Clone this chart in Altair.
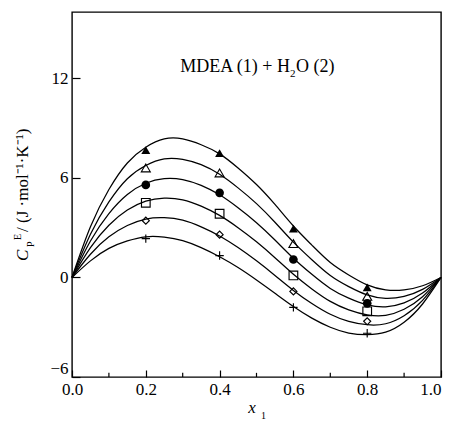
import altair as alt
import pandas as pd

# ---- data ----
x_grid = [0.0, 0.05, 0.1, 0.15, 0.2, 0.25, 0.3, 0.35, 0.4, 0.45, 0.5,
          0.55, 0.6, 0.65, 0.7, 0.75, 0.8, 0.85, 0.9, 0.95, 1.0]

curve_tri_filled = [0, 3.05, 5.3, 6.9, 7.85, 8.35, 8.35, 8.0, 7.45, 6.6, 5.6,
                    4.4, 3.1, 1.95, 0.9, 0.15, -0.45, -0.75, -0.75, -0.5, 0]
curve_tri_open = [0, 2.6, 4.55, 5.95, 6.75, 7.15, 7.12, 6.8, 6.22, 5.4, 4.45,
                  3.33, 2.13, 1.07, 0.12, -0.55, -1.05, -1.26, -1.14, -0.72, 0]
curve_circle = [0, 2.2, 3.85, 5.0, 5.68, 5.96, 5.9, 5.55, 4.98, 4.2, 3.3,
                2.26, 1.16, 0.19, -0.66, -1.25, -1.65, -1.77, -1.53, -0.94, 0]
curve_square = [0, 1.8, 3.15, 4.06, 4.6, 4.78, 4.68, 4.3, 3.74, 3.0, 2.15,
                1.19, 0.19, -0.69, -1.44, -1.95, -2.25, -2.28, -1.92, -1.16, 0]
curve_diamond = [0, 1.4, 2.45, 3.13, 3.52, 3.6, 3.45, 3.05, 2.5, 1.8, 1.0,
                 0.12, -0.78, -1.57, -2.22, -2.65, -2.85, -2.79, -2.31, -1.38, 0]
curve_plus = [0, 1.0, 1.75, 2.2, 2.45, 2.43, 2.22, 1.8, 1.25, 0.6, -0.15,
              -0.95, -1.75, -2.45, -3.0, -3.35, -3.45, -3.3, -2.7, -1.6, 0]

x_points = [0.2, 0.4, 0.6, 0.8]
pts_tri_filled = [7.68, 7.5, 2.94, -0.6]
pts_tri_open = [6.6, 6.3, 2.04, -1.14]
pts_circle = [5.58, 5.1, 1.08, -1.56]
pts_square = [4.5, 3.84, 0.12, -2.04]
pts_diamond = [3.42, 2.58, -0.84, -2.64]
pts_plus = [2.34, 1.32, -1.8, -3.36]

x_major = [0.0, 0.2, 0.4, 0.6, 0.8, 1.0]
x_minor = [0.1, 0.3, 0.5, 0.7, 0.9]
y_major = [-6, 0, 6, 12]

series_names = ["tri_filled", "tri_open", "circle", "square", "diamond", "plus"]
curves = [curve_tri_filled, curve_tri_open, curve_circle, curve_square, curve_diamond, curve_plus]
points = [pts_tri_filled, pts_tri_open, pts_circle, pts_square, pts_diamond, pts_plus]

rows = []
for name, vals in zip(series_names, curves):
    for xv, yv in zip(x_grid, vals):
        rows.append({"series": name, "x": xv, "y": yv})
df_curves = pd.DataFrame(rows)

FONT = "Liberation Serif"

xscale = alt.Scale(domain=[0, 1], nice=False, zero=False)
yscale = alt.Scale(domain=[-6, 16], nice=False, zero=False)

xaxis = alt.Axis(values=x_major, format=".1f", title=None, offset=-7, tickSize=7,
                 labelPadding=4, domain=False, grid=False, labelFlush=False,
                 labelAlign=alt.expr("datum.value >= 1 ? 'right' : 'center'"))
yaxis = alt.Axis(values=y_major, format="d", title=None, offset=-8, tickSize=8,
                 labelPadding=4, domain=False, grid=False, labelFlush=True)

lines = alt.Chart(df_curves).mark_line(interpolate="natural", color="black", strokeWidth=1.25).encode(
    x=alt.X("x:Q", scale=xscale, axis=xaxis),
    y=alt.Y("y:Q", scale=yscale, axis=yaxis),
    detail="series:N",
)

marker_styles = {
    "tri_filled": dict(shape="triangle-up", filled=True, size=80),
    "tri_open": dict(shape="triangle-up", filled=False, size=80),
    "circle": dict(shape="circle", filled=True, size=75),
    "square": dict(shape="square", filled=False, size=75),
    "diamond": dict(shape="diamond", filled=False, size=50),
    "plus": dict(shape="M-1,0L1,0M0,-1L0,1", filled=False, size=70),
}

layers = [lines]
for name, vals in zip(series_names, points):
    dfp = pd.DataFrame({"x": x_points, "y": vals})
    st = marker_styles[name]
    layers.append(
        alt.Chart(dfp).mark_point(shape=st["shape"], filled=st["filled"], size=st["size"],
                                  color="black", strokeWidth=1.15, opacity=1).encode(
            x=alt.X("x:Q", scale=xscale),
            y=alt.Y("y:Q", scale=yscale),
        )
    )

# minor ticks on the x axis
minor = alt.Chart(pd.DataFrame({"x": x_minor})).mark_rule(color="black", strokeWidth=1.2).encode(
    x=alt.X("x:Q", scale=xscale),
    y=alt.datum(-6),
    y2=alt.datum(-5.75),
)
layers.append(minor)


def txt(s, x, y, size=17, angle=0, align="left", italic=False, baseline="alphabetic"):
    kw = dict(font=FONT, fontSize=size, color="black", align=align, baseline=baseline)
    if angle:
        kw["angle"] = angle
    if italic:
        kw["fontStyle"] = "italic"
    return alt.Chart(pd.DataFrame({"t": [s]})).mark_text(**kw).encode(
        text="t:N", x=alt.value(x), y=alt.value(y))


# annotation
layers += [
    txt("MDEA (1) + H", 218, 60, size=18, align="right"),
    txt("2", 218, 65, size=11),
    txt("O (2)", 224, 60, size=18),
]
# y title
layers += [
    txt("C", -44, 249, angle=270, italic=True),
    txt("P", -38.5, 235, size=10, angle=270),
    txt("E", -51.5, 228, size=10, angle=270),
    txt("/ (J \u00b7mol\u207b\u00b9\u00b7K\u207b\u00b9)", -44, 220, angle=270),
]
# x title
layers += [
    txt("x", 180, 401, italic=True, align="center"),
    txt("1", 189, 407, size=10),
]

chart = alt.layer(*layers).properties(
    width=369, height=365,
    autosize=alt.AutoSizeParams(type="none"),
    padding={"left": 64, "top": 4, "right": 2, "bottom": 45},
).configure_view(
    stroke="black", strokeWidth=1.4
).configure_axis(
    labelFont=FONT, labelFontSize=17, labelColor="black",
    tickColor="black", tickWidth=1.2,
)

chart.save("out.html", embed_options={"renderer": "svg", "actions": False})
